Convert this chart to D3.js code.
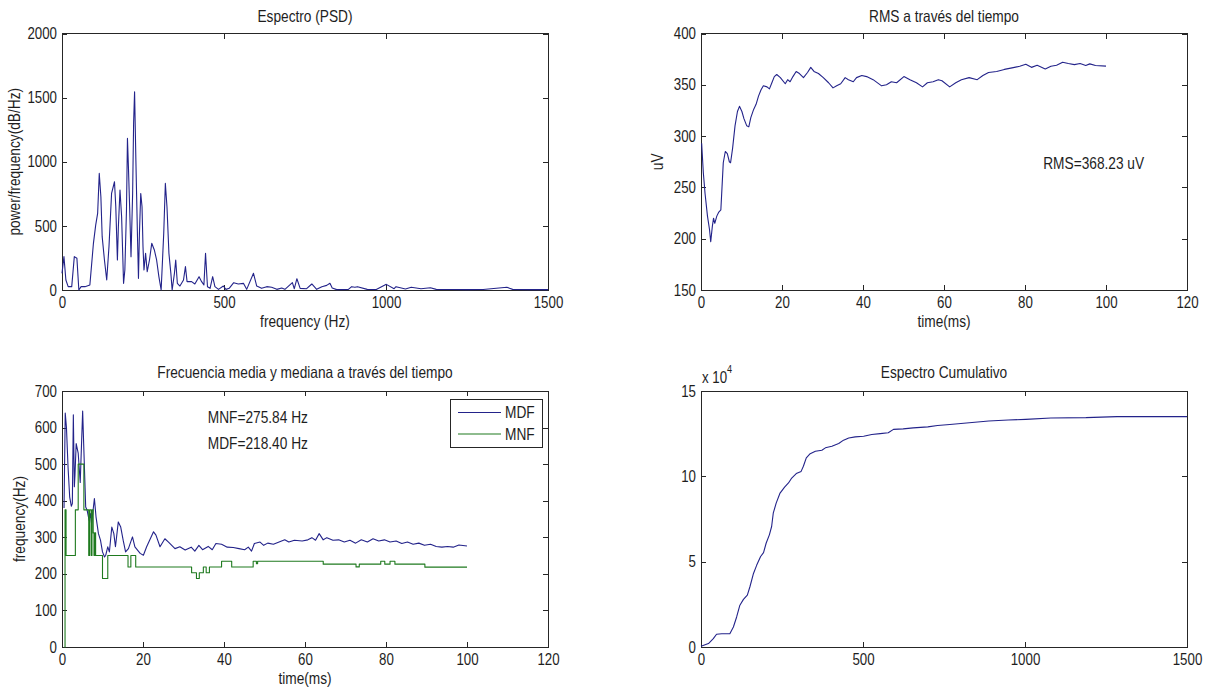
<!DOCTYPE html>
<html><head><meta charset="utf-8">
<script src="https://cdn.jsdelivr.net/npm/d3@7"></script>
<style>
body{margin:0;background:#fff;}
svg text{font-family:"Liberation Sans",Arial,Helvetica,sans-serif;fill:#1e1e1e;}
</style></head><body>
<svg id="c" width="1208" height="691"></svg>
<script>
// ---- Panel 1: PSD ----
const psdFreq  = [0,6,12,19,30,38,46,52,59,71,86,97,104,110,115,120,124,131,138,145,153,162,166,171,174,179,184,190,194,199,202,205,209,213,218,221,224,228,233,236,239,243,247,250,253,258,263,270,277,285,292,299,306,314,319,324,330,336,340,347,351,356,364,375,381,386,400,410,423,431,438,443,449,457,465,472,483,498,506,516,530,544,560,570,591,601,616,632,647,663,678,688,711,717,725,735,755,771,786,802,817,827,834,848,884,894,904,912,942,970,1001,1025,1031,1060,1078,1108,1137,1155,1200,1250,1300,1373,1391,1440,1500];
const psdPower = [130,260,78,26,26,260,247,0,26,26,39,364,506,597,909,727,416,234,78,338,753,844,649,234,494,779,571,52,156,623,1182,961,623,260,753,1299,1545,1013,416,91,442,753,649,338,156,286,143,234,364,312,234,104,0,442,831,649,286,130,0,130,234,52,31,78,182,65,65,47,104,65,39,286,26,13,104,26,5,31,5,13,57,47,52,5,130,31,13,26,21,5,16,5,57,10,88,13,10,47,5,26,36,52,16,3,5,26,21,26,5,4,44,10,26,8,21,10,18,5,4,3,4,21,5,3,3];
const psdXTicks = [0,500,1000,1500];
const psdYTicks = [0,500,1000,1500,2000];

// ---- Panel 2: RMS ----
const rmsTime  = [0.16,0.58,1,1.6,2.1,2.4,2.8,3.1,3.4,3.9,4.4,4.9,5.2,5.5,6,6.5,7,7.3,7.8,8.4,9,9.5,10.1,10.6,11.3,11.8,12.3,13,13.6,14.2,14.8,15.4,16.3,16.9,17.5,18.1,18.7,19.6,20.8,21.4,22,22.7,23.5,24.3,25.3,26.3,27.1,27.9,29,30.2,31.5,32.6,33.5,34.5,35.6,36.4,37.6,38.4,39.7,40.9,42.5,44.6,45.8,47,48.3,50.1,51.6,53.2,54.7,55.9,57.3,58.6,59.5,61.4,62.9,64.3,66.2,68.2,69.6,71,73,74.9,76.8,78.7,80.2,81.6,83,85,86.4,87.8,89.3,90.7,92.2,93.6,95,96,97.4,100];
const rmsValue = [293,264,244,222,209,197,212,220,215,222,226,228,251,274,285,283,275,274,288,310,324,329,324,317,310,309,318,326,331,339,345,349,348,346,352,358,360,357,351,355,353,358,363,361,357,362,367,363,361,357,352,347,349,351,357,355,353,357,359,358,355,349,350,353,352,358,355,352,348,352,353,355,354,348,352,355,357,355,359,362,363,365,366.5,368,370,367,369,365.5,368,369,372,370.7,369.7,370.7,368.8,370.4,368.8,368.2];
const rmsXTicks = [0,20,40,60,80,100,120];
const rmsYTicks = [150,200,250,300,350,400];
const rmsLabel = "RMS=368.23 uV";

// ---- Panel 3: MDF / MNF ----
const mdfTime  = [0.5,0.8,1.1,1.5,1.9,2.3,2.55,2.8,3.05,3.2,3.5,4.0,4.5,5.1,5.35,5.85,6.2,6.7,7.0,7.3,8.0,8.4,9.0,9.5,10.0,10.5,10.8,11.3,11.7,12.3,12.8,13.2,13.9,14.5,15.1,15.7,16.4,17.4,18.0,19.3,20.1,20.9,22.6,23.2,24.2,25.4,26.3,27.9,29.1,30.4,31.9,32.8,33.8,34.7,36.1,37.1,38.0,39.4,40.8,42.3,43.7,45.1,46.0,46.8,47.5,48.9,49.8,50.8,52.2,53.6,55.0,56.0,57.4,59.3,60.7,61.7,62.6,63.5,64.5,65.4,66.9,68.3,69.7,71.1,72.5,73.9,75.4,76.8,78.2,79.6,81.0,82.5,83.9,85.3,86.7,88.1,89.5,91.0,92.4,93.8,95.2,96.6,98.0,100];
const mdfValue = [380,640,600,490,410,385,392,635,438,470,556,530,450,645,556,383,374,346,365,337,406,356,310,292,260,246,251,274,260,328,310,274,342,328,292,260,269,301,274,256,251,274,315,306,274,296,287,269,274,265,273,262,278,266,275,266,283,281,273,272,269,266,273,262,283,287,278,284,281,287,293,287,292,290,293,299,292,310,293,299,292,293,287,292,284,293,287,296,290,293,287,290,283,287,281,284,278,281,275,273,275,273,279,276];
const mnfTime  = [0.6,0.75,1.0,3.3,4.0,5.4,6.6,6.8,7.2,7.4,7.7,7.9,8.1,8.3,10.0,11.3,16.3,17.0,18.2,32.0,33.2,33.9,34.9,35.6,36.4,39.4,41.9,47.2,48.0,48.3,64.5,72.6,73.4,78.7,79.7,81.0,82.2,89.6,100];
const mnfValue = [0,375,250,375,500,375,250,375,250,375,312,250,312,250,187.5,250,218.75,250,218.75,203,187.5,203,218.75,203,218.75,234.4,218.75,234.4,228,234.4,226.6,219,226.6,234.4,226.6,234.4,226.6,218.4,218.4];
const freqXTicks = [0,20,40,60,80,100,120];
const freqYTicks = [0,100,200,300,400,500,600,700];
const seriesNames = ["MDF","MNF"];
const statLabels = ["MNF=275.84 Hz","MDF=218.40 Hz"];

// ---- Panel 4: cumulative spectrum ----
const cumFreq  = [0,23,38,48,64,89,100,110,120,131,143,151,162,172,184,193,201,211,218,223,232,244,258,270,280,294,309,316,325,337,353,373,384,404,425,440,456,476,502,527,553,578,594,624,655,700,730,768,828,888,948,1002,1080,1188,1284,1500];
const cumValue = [400,2000,4900,7500,7800,7800,11700,17600,24500,27900,30400,35300,43100,48000,53000,55300,60800,65700,70600,78400,84300,90200,93700,96100,99000,101600,102900,105900,110800,113300,114700,115300,116700,117600,119200,121200,122500,123100,123500,124500,125000,125500,127500,127800,128400,129000,129800,130400,131400,132400,133000,133400,134200,134400,135000,135000];
const cumXTicks = [0,500,1000,1500];
const cumYTicks = [0,50000,100000,150000];

const titles = ["Espectro (PSD)","RMS a través del tiempo","Frecuencia media y mediana a través del tiempo","Espectro Cumulativo"];

const BLUE = "#23238a", GREEN = "#1f7a1f", AXIS = "#262626";
const svg = d3.select("#c");

function panel(p, xDom, yDom, xT, yT, yFmt, xPad) {
  const x = d3.scaleLinear().domain(xDom).range([p.x0, p.x1]);
  const y = d3.scaleLinear().domain(yDom).range([p.y1, p.y0]);
  const g = svg.append("g");
  const fmtX = d3.format("d");
  const styleAx = sel => {
    sel.select(".domain").remove();
    sel.selectAll(".tick line").attr("stroke", AXIS).attr("shape-rendering","crispEdges");
    sel.selectAll(".tick text").attr("font-size", 16).attr("font-family", null).attr("fill","#1e1e1e").classed("narrow", true);
  };
  g.append("g").attr("transform",`translate(0,${p.y1})`)
    .call(d3.axisBottom(x).tickValues(xT).tickFormat(fmtX).tickSizeInner(-5).tickSizeOuter(0).tickPadding(xPad)).call(styleAx);
  g.append("g").attr("transform",`translate(0,${p.y0})`)
    .call(d3.axisTop(x).tickValues(xT).tickFormat(() => "").tickSizeInner(-5).tickSizeOuter(0)).call(styleAx);
  g.append("g").attr("transform",`translate(${p.x0},0)`)
    .call(d3.axisLeft(y).tickValues(yT).tickFormat(yFmt).tickSizeInner(-5).tickSizeOuter(0).tickPadding(5)).call(styleAx);
  g.append("g").attr("transform",`translate(${p.x1},0)`)
    .call(d3.axisRight(y).tickValues(yT).tickFormat(() => "").tickSizeInner(-5).tickSizeOuter(0)).call(styleAx);
  g.append("rect").attr("x", p.x0).attr("y", p.y0).attr("width", p.x1 - p.x0).attr("height", p.y1 - p.y0)
    .attr("fill","none").attr("stroke", AXIS).attr("stroke-width",1).attr("shape-rendering","crispEdges");
  return {x, y, g};
}

const P = [
  {x0:62, x1:548, y0:33.5, y1:290},
  {x0:701, x1:1187, y0:33.5, y1:290},
  {x0:62, x1:548, y0:391, y1:647},
  {x0:701, x1:1187, y0:391, y1:647}
];

function drawLine(pn, xs, ys, color, curve) {
  const data = xs.map((v,i) => [v, ys[i]]);
  pn.g.append("path").datum(data)
    .attr("fill","none").attr("stroke", color).attr("stroke-width", 1.1).attr("stroke-linejoin","round")
    .attr("d", d3.line().x(d => pn.x(d[0])).y(d => pn.y(d[1])).curve(curve || d3.curveLinear));
}

function addText(x, y, txt, size, anchor, rot) {
  const t = svg.append("text").attr("font-size", size).attr("text-anchor", anchor || "middle").classed("narrow", true).text(txt);
  if (rot) t.attr("transform", `translate(${x},${y}) rotate(${rot})`);
  else t.attr("x", x).attr("y", y);
  return t;
}

// Panel 1
const p1 = panel(P[0], [0,1500], [0,2000], psdXTicks, psdYTicks, d3.format("d"), 7);
drawLine(p1, psdFreq, psdPower, BLUE);
addText((P[0].x0+P[0].x1)/2, 22, titles[0], 16.5);
addText((P[0].x0+P[0].x1)/2, 327, "frequency (Hz)", 16.5);
addText(20, (P[0].y0+P[0].y1)/2, "power/frequency(dB/Hz)", 16.5, "middle", -90);

// Panel 2
const p2 = panel(P[1], [0,120], [150,400], rmsXTicks, rmsYTicks, d3.format("d"), 7);
drawLine(p2, rmsTime, rmsValue, BLUE);
addText((P[1].x0+P[1].x1)/2, 22, titles[1], 16.5);
addText((P[1].x0+P[1].x1)/2, 327, "time(ms)", 16.5);
addText(663, (P[1].y0+P[1].y1)/2, "uV", 16.5, "middle", -90);
addText(p2.x(84.5), p2.y(274), rmsLabel, 16.5, "start").attr("dy","0.35em");

// Panel 3
const p3 = panel(P[2], [0,120], [0,700], freqXTicks, freqYTicks, d3.format("d"), 7);
drawLine(p3, mdfTime, mdfValue, BLUE);
drawLine(p3, mnfTime, mnfValue, GREEN, d3.curveStepAfter);
addText((P[2].x0+P[2].x1)/2, 378, titles[2], 16.5);
addText((P[2].x0+P[2].x1)/2, 684, "time(ms)", 16.5);
addText(25, (P[2].y0+P[2].y1)/2, "frequency(Hz)", 16.5, "middle", -90);
addText(p3.x(36), p3.y(628), statLabels[0], 16.5, "start").attr("dy","0.35em");
addText(p3.x(36), p3.y(557), statLabels[1], 16.5, "start").attr("dy","0.35em");
// legend
const lg = svg.append("g");
lg.append("rect").attr("x",450).attr("y",399).attr("width",92).attr("height",48)
  .attr("fill","#fff").attr("stroke",AXIS).attr("shape-rendering","crispEdges");
[[BLUE,412.5],[GREEN,434]].forEach((d,i) => {
  lg.append("line").attr("x1",458).attr("x2",501).attr("y1",d[1]).attr("y2",d[1]).attr("stroke",d[0]).attr("stroke-width",1.1);
  lg.append("text").attr("x",505).attr("y",d[1]).attr("dy","0.35em").attr("font-size",16.5)
    .attr("text-anchor","start").classed("narrow", true).text(seriesNames[i]);
});

// Panel 4
const p4 = panel(P[3], [0,1500], [0,150000], cumXTicks, cumYTicks, v => d3.format("d")(v/10000), 7);
drawLine(p4, cumFreq, cumValue, BLUE);
addText((P[3].x0+P[3].x1)/2, 378, titles[3], 16.5);

// condense all text horizontally (narrow Helvetica look)
svg.selectAll("text.narrow").each(function() {
  const w = this.getComputedTextLength();
  if (w > 0) d3.select(this).attr("textLength", w * 0.83).attr("lengthAdjust", "spacingAndGlyphs");
});

// axis multiplier "x 10^4" as one text element, condensed by a transform
const ex = svg.append("text").attr("transform", "translate(702,383) scale(0.83,1)")
  .attr("font-size", 16).attr("text-anchor", "start");
ex.append("tspan").attr("x", 0).attr("y", 0).text("x 10");
ex.append("tspan").attr("font-size", 11).attr("dy", -10).text("4");
</script>
</body></html>
